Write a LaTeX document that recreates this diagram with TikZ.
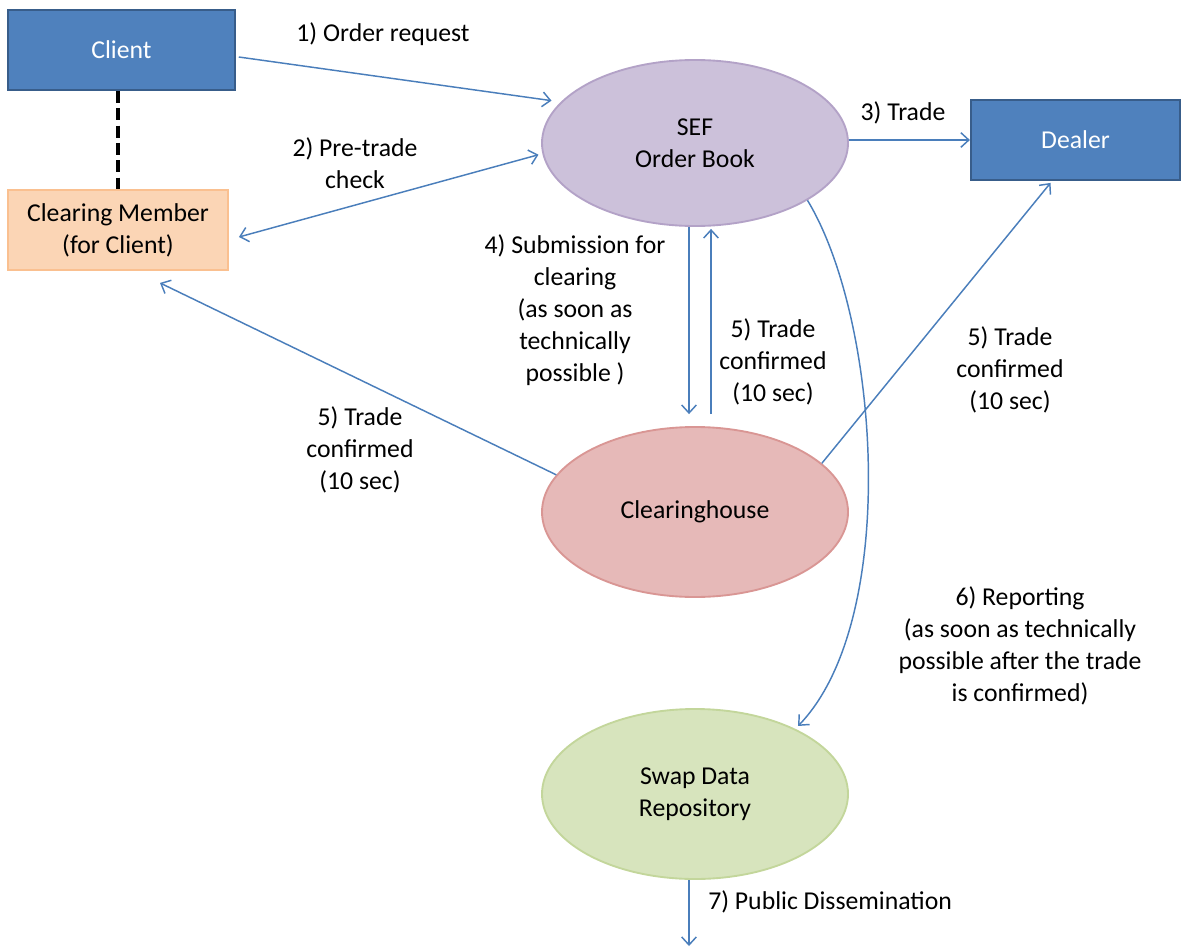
\documentclass[tikz,border=0pt]{standalone}
\usepackage{fontspec}
\setmainfont{Carlito}
\usepackage{xcolor}
\usepackage{tikz}
\usetikzlibrary{shapes.geometric,arrows.meta,calc}

\definecolor{partyfill}{RGB}{79,129,189}
\definecolor{partyline}{RGB}{56,93,138}
\definecolor{memberfill}{RGB}{251,213,181}
\definecolor{memberline}{RGB}{250,192,144}
\definecolor{seffill}{RGB}{204,193,218}
\definecolor{sefline}{RGB}{179,162,199}
\definecolor{chfill}{RGB}{230,185,184}
\definecolor{chline}{RGB}{217,150,148}
\definecolor{sdrfill}{RGB}{215,228,189}
\definecolor{sdrline}{RGB}{195,214,155}
\definecolor{flowline}{RGB}{74,126,187}

\tikzset{
  party/.style={draw=partyline, fill=partyfill, text=white, line width=1.4pt, inner sep=0pt, minimum height=60pt},
  member/.style={draw=memberline, fill=memberfill, line width=1.4pt, inner sep=0pt, align=center, minimum width=165pt, minimum height=60pt},
  venue/.style={ellipse, line width=1.4pt, inner sep=0pt, align=center, minimum width=229.5pt, minimum height=127.5pt},
  flow/.style={draw=flowline, line width=1.1pt, -{Straight Barb[length=6pt,width=11pt]}},
  twoway/.style={draw=flowline, line width=1.1pt, {Straight Barb[length=6pt,width=11pt]}-{Straight Barb[length=6pt,width=11pt]}},
  lbl/.style={align=center, inner sep=0pt}
}

\begin{document}
\begin{tikzpicture}[x=0.75pt,y=0.75pt,yscale=-1,xscale=1,font=\fontsize{19.3}{24}\selectfont]
	\useasboundingbox (0,0) rectangle (1191,949);
	
	%Shape: Rectangle [client]
	\node [party, minimum width=170pt] (client) at (121.5,50) {Client};
	%Shape: Rectangle [member]
	\node [member] (member) at (118,230) {Clearing Member\\(for Client)};
	%Shape: Rectangle [dealer]
	\node [party, minimum width=157pt] (dealer) at (1075.5,140) {Dealer};
	%Shape: Ellipse [sef]
	\node [venue, draw=sefline, fill=seffill, minimum height=124.5pt] (sef) at (695,143) {SEF\\Order Book};
	%Shape: Ellipse [ch]
	\node [venue, draw=chline, fill=chfill] (ch) at (695,512) {Clearinghouse};
	%Shape: Ellipse [sdr]
	\node [venue, draw=sdrline, fill=sdrfill] (sdr) at (695,794) {Swap Data\\Repository};
	\coordinate (pubend) at (689,946);
	
	%Dashed Line
	\draw [line width=3pt, dash pattern=on 9pt off 4pt] (client.south -| member.north) -- (member.north);
	%Straight Lines
	\draw [flow, shorten >=7pt] ($(client.east)+(3,7)$) -- (sef.163);
	\draw [twoway, shorten >=3pt] ($(member.east)+(10,7)$) -- (sef.184);
	\draw [flow] (sef.east |- dealer.west) -- (dealer.west);
	\draw [flow] ($(sef.south)+(-6,0)$) -- ($(ch.north)+(-6,-12)$);
	\draw [flow] ($(ch.north)+(16,-12)$) -- ($(sef.south)+(16,2)$);
	\draw [flow] (ch.21) -- ($(dealer.south)+(-25,2)$);
	\draw [flow] (ch.165) -- ($(member.south)+(42,12)$);
	%Curve Lines
	\draw [flow, shorten >=3pt] (sef.-27) .. controls (880,320) and (900,620) .. (sdr.33);
	\draw [flow] ($(sdr.south)+(-6,0)$) -- (pubend);
	
	% Text Node
	\node [lbl] (l1) at (383,34) {1) Order request};
	% Text Node
	\node [lbl] (l2) at (355,163) {2) Pre-trade\\check};
	% Text Node
	\node [lbl] (l3) at (903,113) {3) Trade};
	% Text Node
	\node [lbl] (l4) at (575,310) {4) Submission for\\clearing\\(as soon as\\technically\\possible )};
	% Text Node
	\node [lbl] (l5a) at (773,362) {5) Trade\\confirmed\\(10 sec)};
	% Text Node
	\node [lbl] (l5b) at (1010,370) {5) Trade\\confirmed\\(10 sec)};
	% Text Node
	\node [lbl] (l5c) at (360,450) {5) Trade\\confirmed\\(10 sec)};
	% Text Node
	\node [lbl] (l6) at (1020,646) {6) Reporting\\(as soon as technically\\possible after the trade\\is confirmed)};
	% Text Node
	\node [lbl, anchor=west] (l7) at (708,902) {7) Public Dissemination};
\end{tikzpicture}
\end{document}
